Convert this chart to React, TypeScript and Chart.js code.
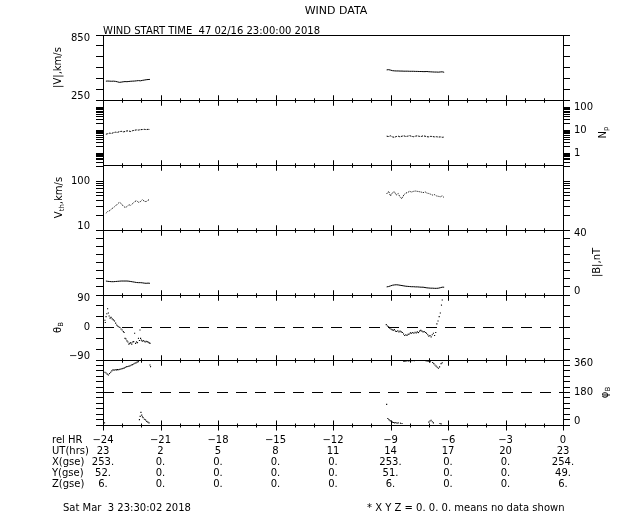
import React, { useEffect, useRef } from 'react';
import { Chart, registerables } from 'chart.js';

Chart.register(...registerables);

// ---------- x axis and position table ----------
const X_MIN = -24;
const X_MAX = 0;
const HOURS = [-24, -23, -22, -21, -20, -19, -18, -17, -16, -15, -14, -13, -12, -11, -10, -9, -8, -7, -6, -5, -4, -3, -2, -1, 0];
const REL_HR = [-24, -21, -18, -15, -12, -9, -6, -3, 0];
const UT_HRS = ['23', '2', '5', '8', '11', '14', '17', '20', '23'];
const X_GSE = ['253.', '0.', '0.', '0.', '0.', '253.', '0.', '0.', '254.'];
const Y_GSE = ['52.', '0.', '0.', '0.', '0.', '51.', '0.', '0.', '49.'];
const Z_GSE = ['6.', '0.', '0.', '0.', '0.', '6.', '0.', '0.', '6.'];
const ROW_NAMES = ['rel HR', 'UT(hrs)', 'X(gse)', 'Y(gse)', 'Z(gse)'];

// ---------- sample times of the two data intervals ----------
const T_A = [-23.85, -23.75, -23.65, -23.55, -23.45, -23.35, -23.25, -23.15, -23.05, -22.95, -22.85, -22.75, -22.65, -22.55, -22.45, -22.35, -22.25, -22.15, -22.05, -21.95, -21.85, -21.75, -21.65, -21.55];
const T_B = [-9.2, -9.1, -9.0, -8.9, -8.8, -8.7, -8.6, -8.5, -8.4, -8.3, -8.2, -8.1, -8.0, -7.9, -7.8, -7.7, -7.6, -7.5, -7.4, -7.3, -7.2, -7.1, -7.0, -6.9, -6.8, -6.7, -6.6, -6.5, -6.4, -6.3, -6.2];

// |V| km/s
const SPEED_A = [424, 425, 424, 423, 424, 422, 418, 413, 415, 418, 420, 419, 421, 423, 424, 425, 427, 429, 427, 431, 434, 437, 439, 440];
const SPEED_B = [528, 530, 526, 521, 519, 518, 518, 517, 517, 516, 516, 516, 515, 515, 515, 514, 514, 513, 513, 512, 512, 513, 511, 510, 509, 508, 508, 507, 509, 510, 506];
// Np
const DENS_A = [6.8, 7.2, 7.6, 7.4, 8.0, 8.4, 8.2, 8.8, 9.2, 8.6, 9.0, 9.6, 9.4, 9.0, 9.8, 10.2, 10.6, 10.4, 10.8, 11.0, 11.2, 10.9, 11.2, 11.0];
const DENS_B = [5.6, 5.4, 5.8, 5.2, 5.0, 5.4, 5.6, 5.2, 5.6, 5.8, 5.4, 5.6, 5.9, 5.5, 5.3, 5.6, 5.8, 5.5, 5.4, 5.8, 5.6, 5.3, 5.2, 5.5, 5.4, 5.2, 5.3, 5.1, 5.2, 5.0, 5.1];
// Vth km/s
const VTH_A = [22, 24, 25, 27, 29, 31, 34, 37, 35, 31, 29, 30, 33, 32, 35, 38, 40, 37, 38, 42, 39, 38, 41, 42];
const VTH_B = [55, 62, 50, 58, 61, 52, 56, 47, 44, 53, 57, 59, 62, 60, 62, 63, 62, 61, 60, 58, 61, 57, 56, 54, 52, 53, 50, 49, 48, 50, 46];
// |B| nT
const BMAG_A = [8.6, 8.4, 8.3, 8.2, 8.2, 8.3, 8.4, 8.5, 8.6, 8.6, 8.6, 8.6, 8.5, 8.3, 8.1, 7.9, 7.7, 7.6, 7.6, 7.5, 7.3, 7.2, 7.3, 7.2];
const BMAG_B = [5.0, 5.2, 5.6, 6.0, 6.2, 6.3, 6.2, 6.0, 5.8, 5.6, 5.4, 5.3, 5.2, 5.1, 5.1, 5.0, 5.0, 4.9, 4.8, 4.8, 4.6, 4.4, 4.3, 4.2, 4.2, 4.1, 4.1, 4.2, 4.5, 4.8, 4.8];

// theta B (deg)
const THETA_T_A = [-23.9, -23.88, -23.84, -23.8, -23.76, -23.72, -23.68, -23.63, -23.58, -23.52, -23.46, -23.4, -23.34, -23.29, -23.24, -23.18, -23.12, -23.06, -23.0, -22.94, -22.9, -22.85, -22.8, -22.75, -22.7, -22.65, -22.6, -22.55, -22.5, -22.45, -22.4, -22.35, -22.3, -22.25, -22.2, -22.15, -22.1, -22.07, -22.04, -22.0, -21.95, -21.9, -21.85, -21.8, -21.75, -21.7, -21.65, -21.6, -21.55];
const THETA_A = [20, 14, 30, 38, 52, 40, 32, 26, 28, 24, 21, 18, 12, 7, 4, 2, 0, -4, -7, -11, -14, -30, -32, -37, -40, -46, -44, -42, -46, -40, -39, -16, -44, -40, -42, -30, -36, -7, -30, -35, -38, -36, -38, -40, -38, -39, -40, -42, -44];
const THETA_T_B = [-9.22, -9.16, -9.1, -9.04, -8.98, -8.92, -8.86, -8.8, -8.74, -8.68, -8.62, -8.56, -8.5, -8.44, -8.38, -8.32, -8.26, -8.2, -8.14, -8.08, -8.02, -7.96, -7.9, -7.84, -7.78, -7.72, -7.66, -7.6, -7.54, -7.48, -7.42, -7.36, -7.3, -7.24, -7.18, -7.12, -7.06, -7.0, -6.94, -6.88, -6.82, -6.76, -6.7, -6.64, -6.58, -6.52, -6.46, -6.4, -6.34, -6.3];
const THETA_B = [8, 4, 2, -2, -4, -6, -8, -6, -10, -11, -9, -12, -10, -12, -14, -18, -22, -20, -22, -19, -18, -15, -16, -14, -16, -13, -15, -12, -14, -10, -8, -10, -12, -11, -14, -16, -20, -24, -22, -26, -20, -16, -22, -14, 10, 18, 30, 40, 62, 76];

// phi B (deg)
const PHI_T_A = [-23.9, -23.84, -23.78, -23.72, -23.66, -23.6, -23.54, -23.48, -23.42, -23.36, -23.3, -23.24, -23.18, -23.12, -23.06, -23.0, -22.94, -22.88, -22.82, -22.76, -22.7, -22.64, -22.58, -22.52, -22.46, -22.4, -22.34, -22.28, -22.22, -22.16, -21.55, -21.52, -23.92, -22.1, -22.06, -22.02, -21.98, -21.94, -21.9, -21.84, -21.78, -21.72, -21.66, -21.6];
const PHI_A = [292, 288, 282, 277, 285, 292, 300, 305, 304, 306, 305, 307, 306, 308, 310, 312, 314, 316, 320, 323, 324, 326, 328, 332, 334, 338, 342, 344, 348, 351, 332, 323, 12, 30, 48, 70, 55, 45, 40, 32, 28, 20, 16, 12];
const PHI_T_B = [-8.3, -8.24, -8.18, -8.12, -8.06, -8.0, -7.94, -7.88, -7.82, -7.76, -7.7, -7.64, -7.58, -7.52, -7.46, -7.4, -7.34, -7.28, -7.22, -7.16, -7.1, -7.04, -6.98, -6.92, -6.8, -6.74, -6.68, -6.62, -6.56, -6.5, -6.44, -6.36, -6.3, -9.2, -9.14, -9.08, -9.02, -8.96, -8.9, -8.84, -8.78, -8.72, -8.66, -8.6, -8.48, -8.4, -7.0, -6.94, -6.88, -6.82, -6.76, -6.42, -6.36];
const PHI_B = [352, 354, 355, 356, 355, 356, 357, 356, 357, 356, 357, 358, 357, 358, 357, 358, 357, 358, 357, 356, 355, 354, 352, 350, 346, 340, 332, 326, 320, 314, 322, 340, 345, 114, 36, 30, 24, 20, 16, 14, 12, 14, 10, 12, 10, 8, 16, 22, 26, 18, 12, 8, 6];

const THETA_REF = 0;
const PHI_REF = 180;

// ---------- axis ticks and labels ----------
const V_TICKS = [250, 350, 450, 550, 650, 750, 850];
const V_LABELS = [250, 850];
const NP_TICKS = [0.4, 0.5, 0.6, 0.7, 0.8, 0.9, 1, 2, 3, 4, 5, 6, 7, 8, 9, 10, 20, 30, 40, 50, 60, 70, 80, 90, 100, 200];
const NP_LABELS = [1, 10, 100];
const VTH_TICKS = [10, 20, 30, 40, 50, 60, 70, 80, 90, 100, 200];
const VTH_LABELS = [10, 100];
const B_TICKS = [0, 5, 10, 15, 20, 25, 30, 35, 40];
const B_LABELS = [0, 40];
const TH_TICKS = [-90, -60, -30, 0, 30, 60, 90];
const TH_LABELS = [-90, 0, 90];
const PH_TICKS = [0, 30, 60, 90, 120, 150, 180, 210, 240, 270, 300, 330, 360];
const PH_LABELS = [0, 180, 360];

const TITLE = 'WIND DATA';
const SUBTITLE = 'WIND START TIME  47 02/16 23:00:00 2018';
const FOOT_LEFT = 'Sat Mar  3 23:30:02 2018';
const FOOT_RIGHT = '* X Y Z = 0. 0. 0. means no data shown';

const FONT = '"DejaVu Sans", sans-serif';
const LEFT_W = 103;
const RIGHT_W = 77;
const BOTTOM_H = 87;
const TOP_PAD = 35;
const X_TICK_PAD = 10;
const X_LINE_H = 11;

type Panel = {
  id: string;
  type: 'linear' | 'logarithmic';
  min: number;
  max: number;
  ticks: number[];
  labels: number[];
  side: 'left' | 'right';
  title: [string, boolean][];
  titleX: number;
};

const PANELS: Panel[] = [
  { id: 'v', type: 'linear', min: 250, max: 850, ticks: V_TICKS, labels: V_LABELS, side: 'left', title: [['|V|,km/s', false]], titleX: 58 },
  { id: 'np', type: 'logarithmic', min: 0.33, max: 220, ticks: NP_TICKS, labels: NP_LABELS, side: 'right', title: [['N', false], ['p', true]], titleX: 603 },
  { id: 'vth', type: 'logarithmic', min: 10, max: 215, ticks: VTH_TICKS, labels: VTH_LABELS, side: 'left', title: [['V', false], ['th', true], [',km/s', false]], titleX: 59 },
  { id: 'b', type: 'linear', min: 0, max: 40, ticks: B_TICKS, labels: B_LABELS, side: 'right', title: [['|B|,nT', false]], titleX: 597 },
  { id: 'th', type: 'linear', min: -90, max: 90, ticks: TH_TICKS, labels: TH_LABELS, side: 'left', title: [['θ', false], ['B', true]], titleX: 58 },
  { id: 'ph', type: 'linear', min: 0, max: 360, ticks: PH_TICKS, labels: PH_LABELS, side: 'right', title: [['φ', false], ['B', true]], titleX: 605 },
];

function fmt(v: number): string {
  return v < 0 ? '\u2212' + Math.abs(v) : String(v);
}

function pairs(t: number[], v: number[]) {
  return t.map((x, i) => ({ x, y: v[i] }));
}

function makeAxis(p: Panel, side: 'left' | 'right') {
  return {
    type: p.type,
    position: side,
    stack: 'panels',
    stackWeight: 1,
    min: p.min,
    max: p.max,
    afterFit: (s: any) => {
      s.width = side === 'left' ? LEFT_W : RIGHT_W;
    },
    afterBuildTicks: (s: any) => {
      s.ticks = p.ticks.map((v) => ({ value: v }));
    },
    ticks: {
      autoSkip: false,
      color: '#000',
      padding: side === 'left' ? 6 : 4,
      font: { family: FONT, size: 10, lineHeight: 0.7 },
      callback: (v: any) => {
        const n = Number(v);
        if (p.side !== side || !p.labels.includes(n)) return '';
        const s = fmt(n);
        if (n === p.max) return ['', s];
        if (n === p.min) return [s, ''];
        return s;
      },
    },
    grid: { drawOnChartArea: false, drawTicks: true, tickLength: 7, color: '#000', lineWidth: 1 },
    border: { display: true, color: '#000', width: 1 },
  };
}

function drawRich(ctx: CanvasRenderingContext2D, parts: [string, boolean][], cx: number, cy: number) {
  ctx.save();
  ctx.translate(cx, cy);
  ctx.rotate(-Math.PI / 2);
  ctx.textBaseline = 'middle';
  ctx.textAlign = 'left';
  const fonts = parts.map(([, sub]) => (sub ? `7px ${FONT}` : `10px ${FONT}`));
  let total = 0;
  const widths = parts.map(([txt], i) => {
    ctx.font = fonts[i];
    const w = ctx.measureText(txt).width;
    total += w;
    return w;
  });
  let x = -total / 2;
  parts.forEach(([txt, sub], i) => {
    ctx.font = fonts[i];
    ctx.fillText(txt, x, sub ? 3 : 0);
    x += widths[i];
  });
  ctx.restore();
}

const framePlugin = {
  id: 'windFrame',
  afterDraw(chart: any) {
    const ctx: CanvasRenderingContext2D = chart.ctx;
    const xs = chart.scales.x;
    const { left, right } = chart.chartArea;
    ctx.save();
    ctx.strokeStyle = '#000';
    ctx.lineWidth = 1;
    PANELS.forEach((p, i) => {
      const s = chart.scales[p.id + 'L'];
      [s.top, s.bottom].forEach((yRaw: number, k: number) => {
        const y = Math.round(yRaw) + 0.5;
        ctx.beginPath();
        ctx.moveTo(left, y);
        ctx.lineTo(right, y);
        ctx.stroke();
        if (i === 0 && k === 0) return;
        HOURS.forEach((h) => {
          const x = Math.round(xs.getPixelForValue(h)) + 0.5;
          const len = h % 3 === 0 ? 5 : 2;
          ctx.beginPath();
          ctx.moveTo(x, y - len);
          ctx.lineTo(x, y + len);
          ctx.stroke();
        });
      });
      const cy = (s.top + s.bottom) / 2;
      ctx.fillStyle = '#000';
      drawRich(ctx, p.title, p.titleX, cy);
    });

    ctx.fillStyle = '#000';
    ctx.textBaseline = 'middle';
    ctx.textAlign = 'center';
    ctx.font = `11px ${FONT}`;
    ctx.fillText(TITLE, 336, 11);

    ctx.textAlign = 'left';
    ctx.textBaseline = 'alphabetic';
    ctx.font = `10px ${FONT}`;
    ctx.fillText(SUBTITLE, left, chart.chartArea.top - 1);

    ctx.textBaseline = 'middle';
    const rowTop = xs.top + X_TICK_PAD;
    ROW_NAMES.forEach((name, i) => {
      ctx.fillText(name, 52, rowTop + X_LINE_H * (i + 0.5));
    });
    ctx.fillText(FOOT_LEFT, 63, 508);
    ctx.fillText(FOOT_RIGHT, 367, 508);
    ctx.restore();
  },
};

export default function App() {
  const canvasRef = useRef<HTMLCanvasElement | null>(null);

  useEffect(() => {
    const canvas = canvasRef.current;
    if (!canvas) return;

    const scales: any = {
      x: {
        type: 'linear',
        position: 'bottom',
        min: X_MIN,
        max: X_MAX,
        afterFit: (s: any) => {
          s.height = BOTTOM_H;
        },
        afterBuildTicks: (s: any) => {
          s.ticks = HOURS.map((v) => ({ value: v }));
        },
        grid: { display: false, drawTicks: false },
        border: { display: false },
        ticks: {
          autoSkip: false,
          maxRotation: 0,
          minRotation: 0,
          padding: X_TICK_PAD,
          color: '#000',
          font: { family: FONT, size: 10, lineHeight: X_LINE_H / 10 },
          callback: (v: any) => {
            const i = REL_HR.indexOf(Number(v));
            if (i < 0) return '';
            return [fmt(REL_HR[i]), UT_HRS[i], X_GSE[i], Y_GSE[i], Z_GSE[i]];
          },
        },
      },
    };
    // right stack: listed top-first
    PANELS.forEach((p) => {
      scales[p.id + 'R'] = makeAxis(p, 'right');
    });
    // left stack: Chart.js puts later left boxes on top, so list bottom-first
    [...PANELS].reverse().forEach((p) => {
      scales[p.id + 'L'] = makeAxis(p, 'left');
    });

    const line = (data: any[], axis: string, extra: any = {}) => ({
      data,
      yAxisID: axis,
      xAxisID: 'x',
      showLine: true,
      borderColor: '#000',
      borderWidth: 1,
      pointRadius: 0,
      fill: false,
      ...extra,
    });
    const dots = (data: any[], axis: string) => ({
      data,
      yAxisID: axis,
      xAxisID: 'x',
      showLine: false,
      pointStyle: 'rect',
      pointRadius: 0.8,
      pointBorderWidth: 0,
      pointBackgroundColor: '#000',
      borderColor: '#000',
    });

    const datasets = [
      line(pairs(T_A, SPEED_A), 'vL'),
      line(pairs(T_B, SPEED_B), 'vL'),
      line(pairs(T_A, DENS_A), 'npL', { borderDash: [2, 1] }),
      line(pairs(T_B, DENS_B), 'npL', { borderDash: [2, 1] }),
      line(pairs(T_A, VTH_A), 'vthL', { borderDash: [1, 1] }),
      line(pairs(T_B, VTH_B), 'vthL', { borderDash: [1, 1] }),
      line(pairs(T_A, BMAG_A), 'bL'),
      line(pairs(T_B, BMAG_B), 'bL'),
      line([{ x: X_MIN, y: THETA_REF }, { x: X_MAX, y: THETA_REF }], 'thL', { borderDash: [11, 8] }),
      dots(pairs(THETA_T_A, THETA_A), 'thL'),
      dots(pairs(THETA_T_B, THETA_B), 'thL'),
      line([{ x: X_MIN, y: PHI_REF }, { x: X_MAX, y: PHI_REF }], 'phL', { borderDash: [11, 8] }),
      dots(pairs(PHI_T_A, PHI_A), 'phL'),
      dots(pairs(PHI_T_B, PHI_B), 'phL'),
    ];

    const chart = new Chart(canvas, {
      type: 'scatter',
      data: { datasets } as any,
      options: {
        animation: false,
        responsive: false,
        devicePixelRatio: 1,
        events: [],
        layout: { padding: { top: TOP_PAD, left: 0, right: 0, bottom: 0 } },
        plugins: {
          legend: { display: false },
          title: { display: false },
          tooltip: { enabled: false },
        },
        scales,
      } as any,
      plugins: [framePlugin],
    });

    return () => {
      chart.destroy();
    };
  }, []);

  return (
    <div style={{ position: 'absolute', left: 0, top: 0, width: 640, height: 512, background: '#fff' }}>
      <canvas ref={canvasRef} width={640} height={512} style={{ display: 'block' }} />
    </div>
  );
}
